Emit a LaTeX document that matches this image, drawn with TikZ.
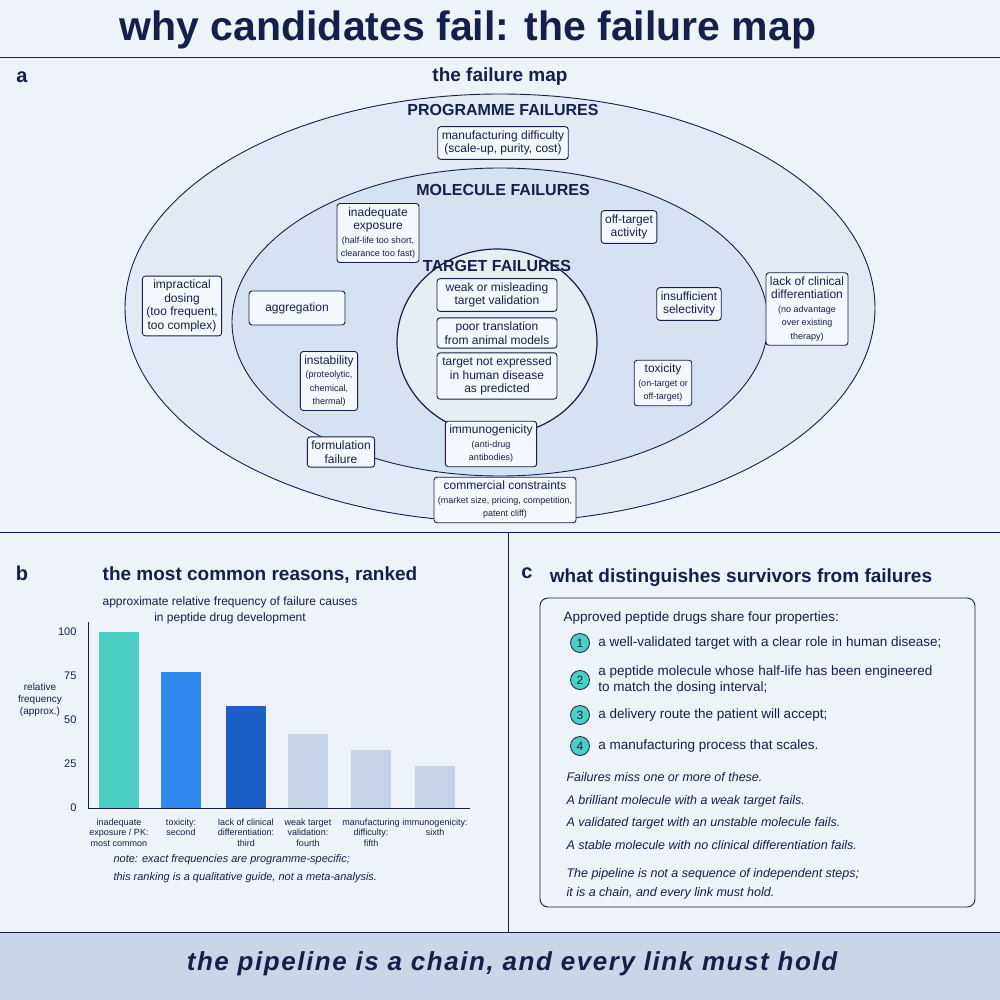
\documentclass[tikz,border=0pt]{standalone}
\usepackage{fontspec}
\setmainfont{Liberation Sans}
\usetikzlibrary{positioning}
\definecolor{navy}{HTML}{14204A}
\definecolor{bgc}{HTML}{EEF2F9}
\definecolor{band}{HTML}{C9D5E8}
\definecolor{ringA}{HTML}{E3EAF5}
\definecolor{ringB}{HTML}{D6E1F1}
\definecolor{ringC}{HTML}{E6EEF4}
\definecolor{tealc}{HTML}{4CCFC3}
\definecolor{bluec}{HTML}{2F8BF0}
\definecolor{darkc}{HTML}{1C5FC6}
\definecolor{greyc}{HTML}{C5D3E6}
\tikzset{
  fbox/.style={draw=navy, fill=white!60!ringA, rounded corners=3pt, line width=0.9pt, align=center, text=navy, font=\fontsize{12}{13.5}\selectfont, inner sep=4pt},
  small/.style={font=\fontsize{10.5}{11.5}\selectfont},
  ringlabel/.style={text=navy, font=\fontsize{16}{18}\selectfont\bfseries},
  ptitle/.style={text=navy, font=\fontsize{19}{21}\selectfont\bfseries},
  plabel/.style={text=navy, font=\fontsize{20}{22}\selectfont\bfseries},
  bar/.style={draw=none},
  cat/.style={text=navy, align=center, font=\fontsize{9}{10.5}\selectfont, anchor=north},
  num/.style={circle, draw=navy, fill=tealc, line width=0.8pt, inner sep=0pt, minimum size=19pt, text=navy, font=\fontsize{12}{12}\selectfont},
  ctext/.style={text=navy, anchor=west, align=left, font=\fontsize{13.5}{16}\selectfont},
  itext/.style={text=navy, anchor=west, font=\fontsize{12.5}{14}\selectfont\itshape}
}
\begin{document}
\begin{tikzpicture}[x=1pt,y=-1pt]
\fill[bgc] (0,0) rectangle (1000,1000);
\useasboundingbox (0,0) rectangle (1000,1000);
% title
\node[text=navy, font=\fontsize{41}{44}\selectfont\bfseries] (title) at (468,30) {why candidates fail: the failure map};
\draw[navy, line width=1pt] (0,58) -- (1000,58);
\node[plabel] (la) at (22,77) {a};
\node[ptitle] (ta) at (500,77) {the failure map};
% rings
\draw[navy, fill=ringA, line width=0.9pt] (500,308) ellipse [x radius=375, y radius=214];
\draw[navy, fill=ringB, line width=0.9pt] (500,322) ellipse [x radius=268, y radius=154];
\draw[navy, fill=ringC, line width=1.2pt] (497,342) ellipse [x radius=100, y radius=93];
\node[ringlabel] (prog) at (503,110) {PROGRAMME FAILURES};
\node[ringlabel] (mol) at (503,190) {MOLECULE FAILURES};
\node[ringlabel] (targ) at (497,266) {TARGET FAILURES};
% boxes
\node[fbox] (manu) at (503,143) {manufacturing difficulty\\(scale-up, purity, cost)};
\node[fbox] (expo) at (378,233) {inadequate\\exposure\\{\small(half-life too short,}\\{\small clearance too fast)}};
\node[fbox] (offt) at (629,227) {off-target\\activity};
\node[fbox] (dose) at (182,306) {impractical\\dosing\\(too frequent,\\too complex)};
\node[fbox, minimum width=96pt, minimum height=34pt] (aggr) at (297,308) {aggregation};
\node[fbox, minimum width=120pt] (weak) at (497,295) {weak or misleading\\target validation};
\node[fbox, minimum width=120pt] (trans) at (497,333) {poor translation\\from animal models};
\node[fbox, minimum width=120pt] (expr) at (497,376) {target not expressed\\in human disease\\as predicted};
\node[fbox] (sele) at (689,304) {insufficient\\selectivity};
\node[fbox] (diff) at (807,309) {lack of clinical\\differentiation\\{\small(no advantage}\\{\small over existing}\\{\small therapy)}};
\node[fbox] (inst) at (329,381) {instability\\{\small(proteolytic,}\\{\small chemical,}\\{\small thermal)}};
\node[fbox] (toxi) at (663,383) {toxicity\\{\small(on-target or}\\{\small off-target)}};
\node[fbox] (immu) at (491,444) {immunogenicity\\{\small(anti-drug}\\{\small antibodies)}};
\node[fbox] (form) at (341,452) {formulation\\failure};
\node[fbox] (comm) at (505,500) {commercial constraints\\{\small(market size, pricing, competition,}\\{\small patent cliff)}};
% dividers
\draw[navy, line width=1pt] (0,532) -- (1000,532);
\draw[navy, line width=1pt] (508,532) -- (508,932);
% panel b
\node[plabel] (lb) at (22,573) {b};
\node[ptitle] (tb) at (260,575) {the most common reasons, ranked};
\node[text=navy, align=center, font=\fontsize{12}{16}\selectfont] (sub) at (230,610) {approximate relative frequency of failure causes\\in peptide drug development};
\draw[navy, line width=0.8pt] (88,622) -- (88,808) -- (470,808);
\foreach \v in {0,25,50,75,100}
  \node[text=navy, anchor=east, font=\fontsize{11}{12}\selectfont] at (80,808-1.76*\v) {\v};
\node[text=navy, align=center, font=\fontsize{10}{12}\selectfont] (ylab) at (40,700) {relative\\frequency\\(approx.)};
\foreach \x/\h/\c/\t in {119/100/tealc/{inadequate\\exposure / PK:\\most common},
    181/77/bluec/{toxicity:\\second},
    246/58/darkc/{lack of clinical\\differentiation:\\third},
    308/42/greyc/{weak target\\validation:\\fourth},
    371/33/greyc/{manufacturing\\difficulty:\\fifth},
    435/24/greyc/{immunogenicity:\\sixth}} {
  \fill[bar, \c] (\x-20,808) rectangle (\x+20,808-1.76*\h);
  \node[cat] at (\x,815) {\t};
}
\node[text=navy, anchor=west, align=left, font=\fontsize{11}{18}\selectfont\itshape] (note) at (110,869) {note: exact frequencies are programme-specific;\\this ranking is a qualitative guide, not a meta-analysis.};
% panel c
\node[plabel] (lc) at (527,573) {c};
\node[ptitle] (tc) at (741,578) {what distinguishes survivors from failures};
\draw[navy, line width=0.9pt, rounded corners=8pt] (540,598) rectangle (975,907);
\node[ctext] (intro) at (560,618) {Approved peptide drugs share four properties:};
\node[num] (n1) at (580,643) {1};
\node[ctext, right=5pt of n1] (p1) {a well-validated target with a clear role in human disease;};
\node[num] (n2) at (580,680) {2};
\node[ctext, right=5pt of n2] (p2) {a peptide molecule whose half-life has been engineered\\to match the dosing interval;};
\node[num] (n3) at (580,715) {3};
\node[ctext, right=5pt of n3] (p3) {a delivery route the patient will accept;};
\node[num] (n4) at (580,746) {4};
\node[ctext, right=5pt of n4] (p4) {a manufacturing process that scales.};
\node[itext] (i1) at (563,777) {Failures miss one or more of these.};
\node[itext] (i2) at (563,801) {A brilliant molecule with a weak target fails.};
\node[itext] (i3) at (563,823) {A validated target with an unstable molecule fails.};
\node[itext] (i4) at (563,845) {A stable molecule with no clinical differentiation fails.};
\node[itext] (i5) at (563,874) {The pipeline is not a sequence of independent steps;};
\node[itext] (i6) at (563,893) {it is a chain, and every link must hold.};
% bottom band
\fill[band] (0,932) rectangle (1000,1000);
\draw[navy, line width=1pt] (0,932) -- (1000,932);
\node[text=navy, font=\fontsize{26}{30}\selectfont\bfseries\itshape\addfontfeature{LetterSpace=6}] (foot) at (512,964) {the pipeline is a chain, and every link must hold};
\end{tikzpicture}
\end{document}
